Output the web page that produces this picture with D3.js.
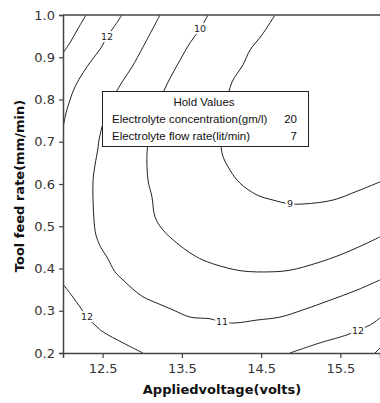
<!DOCTYPE html>
<html>
<head>
<meta charset="utf-8">
<script src="https://cdn.jsdelivr.net/npm/d3@7"></script>
<style>
  body { margin: 0; background: #fff; }
  svg { display: block; }
  .tick text { font-family: "DejaVu Sans", sans-serif; font-size: 13px; fill: #333; }
  .axis-title { font-family: "DejaVu Sans", sans-serif; font-weight: bold; font-size: 13px; fill: #111; }
  .clabel { font-family: "DejaVu Sans", sans-serif; font-size: 9.5px; fill: #222; }
  .legend text { font-family: "Liberation Sans", Arial, sans-serif; font-size: 11.5px; fill: #111; }
</style>
</head>
<body>
<div id="chart"></div>
<script>
// tick values
const xTicks = [12.5, 13.5, 14.5, 15.5];
const yTicks = [0.2, 0.3, 0.4, 0.5, 0.6, 0.7, 0.8, 0.9, 1.0];

// contour lines: [voltage, feed rate]
const contour13a = [[12.0, 0.91], [12.09, 0.935], [12.19, 0.968], [12.29, 1.0]];
const contour12a = [[12.744, 1.0], [12.644, 0.972], [12.555, 0.948], [12.479, 0.922], [12.366, 0.894],
    [12.252, 0.863], [12.151, 0.830], [12.088, 0.799], [12.038, 0.768], [12.0, 0.733]];
const contour11 = [[13.224, 1.0], [13.009, 0.924], [12.871, 0.877], [12.744, 0.841], [12.618, 0.799],
    [12.517, 0.751], [12.454, 0.704], [12.442, 0.685], [12.404, 0.645], [12.379, 0.609], [12.379, 0.562],
    [12.391, 0.515], [12.416, 0.479], [12.48, 0.449], [12.555, 0.427], [12.656, 0.392], [12.757, 0.373],
    [12.883, 0.351], [13.009, 0.333], [13.186, 0.318], [13.388, 0.302], [13.603, 0.285], [13.855, 0.281],
    [14.006, 0.273], [14.17, 0.271], [14.448, 0.278], [14.738, 0.285], [15.028, 0.302], [15.369, 0.325],
    [15.71, 0.349], [16.0, 0.373]];
const contour10 = [[13.83, 1.0], [13.729, 0.967], [13.603, 0.934], [13.476, 0.893], [13.325, 0.841],
    [13.224, 0.799], [13.136, 0.751], [13.085, 0.709], [13.06, 0.673], [13.073, 0.609], [13.123, 0.569],
    [13.161, 0.522], [13.262, 0.491], [13.438, 0.46], [13.603, 0.437], [13.767, 0.42], [14.019, 0.404],
    [14.271, 0.394], [14.612, 0.392], [14.864, 0.396], [15.205, 0.413], [15.495, 0.432], [15.836, 0.46],
    [16.0, 0.475]];
const contour9 = [[14.675, 1.0], [14.511, 0.953], [14.36, 0.917], [14.271, 0.882], [14.132, 0.841],
    [14.057, 0.787], [14.006, 0.733], [14.006, 0.673], [14.107, 0.633], [14.233, 0.602], [14.448, 0.574],
    [14.65, 0.562], [14.864, 0.553], [15.054, 0.553], [15.407, 0.562], [15.71, 0.583], [16.0, 0.605]];
const contour12b = [[12.0, 0.363], [12.114, 0.335], [12.215, 0.309], [12.303, 0.285], [12.404, 0.266],
    [12.505, 0.25], [12.757, 0.224], [13.009, 0.2]];
const contour12c = [[14.864, 0.2], [15.243, 0.224], [15.584, 0.243], [15.722, 0.254], [15.874, 0.266], [16.0, 0.283]];
const contour13b = [[15.937, 0.2], [16.0, 0.212]];

// contour labels: [text, voltage, feed rate]
const contourLabels = [["12", 12.555, 0.948], ["10", 13.729, 0.967], ["9", 14.864, 0.553],
    ["11", 14.006, 0.273], ["12", 12.303, 0.285], ["12", 15.722, 0.254]];

// hold values box
const holdNames = ["Electrolyte concentration(gm/l)", "Electrolyte flow rate(lit/min)"];
const holdValues = [20, 7];

const width = 380, height = 403;
const margin = {left: 63, right: 0, top: 15, bottom: 50};

const svg = d3.select('#chart')
    .append('svg')
    .attr('width', width)
    .attr('height', height);

const x = d3.scaleLinear().domain([12, 16]).range([margin.left, width - margin.right]);
const y = d3.scaleLinear().domain([0.2, 1.0]).range([height - margin.bottom, margin.top]);

svg.append('clipPath').attr('id', 'plot-clip')
    .append('rect')
    .attr('x', margin.left).attr('y', margin.top)
    .attr('width', width - margin.left - margin.right)
    .attr('height', height - margin.top - margin.bottom);

const line = d3.line()
    .x(d => x(d[0]))
    .y(d => y(d[1]))
    .curve(d3.curveCatmullRom.alpha(0.5));

const contours = [contour13a, contour12a, contour11, contour10, contour9, contour12b, contour12c, contour13b];

svg.append('g')
    .attr('clip-path', 'url(#plot-clip)')
    .selectAll('path')
    .data(contours)
    .enter()
    .append('path')
    .attr('d', line)
    .attr('fill', 'none')
    .attr('stroke', '#222')
    .attr('stroke-width', 1);

// labels sit on the line with a white halo to break it
svg.append('g')
    .selectAll('text')
    .data(contourLabels)
    .enter()
    .append('text')
    .attr('class', 'clabel')
    .attr('x', d => x(d[1]))
    .attr('y', d => y(d[2]))
    .attr('dy', '0.35em')
    .attr('text-anchor', 'middle')
    .attr('stroke', '#fff')
    .attr('stroke-width', 4)
    .attr('paint-order', 'stroke')
    .text(d => d[0]);

// axes
const xAxis = svg.append('g')
    .attr('transform', `translate(0, ${height - margin.bottom})`)
    .call(d3.axisBottom(x).tickValues(xTicks).tickSize(5).tickPadding(6).tickFormat(d3.format('.1f')));

const yAxis = svg.append('g')
    .attr('transform', `translate(${margin.left}, 0)`)
    .call(d3.axisLeft(y).tickValues(yTicks).tickSize(4).tickPadding(4).tickFormat(d3.format('.1f')));

[xAxis, yAxis].forEach(g => {
    g.select('.domain').attr('stroke', '#444').attr('stroke-width', 1.5);
    g.selectAll('.tick line').attr('stroke', '#444').attr('stroke-width', 1.2);
});

// top frame line
svg.append('line')
    .attr('x1', margin.left).attr('x2', width)
    .attr('y1', margin.top).attr('y2', margin.top)
    .attr('stroke', '#444').attr('stroke-width', 1.5);

svg.append('text')
    .attr('class', 'axis-title')
    .attr('x', 222)
    .attr('y', 394)
    .attr('text-anchor', 'middle')
    .text('Appliedvoltage(volts)');

svg.append('text')
    .attr('class', 'axis-title')
    .attr('transform', 'translate(24, 186) rotate(-90)')
    .attr('text-anchor', 'middle')
    .text('Tool feed rate(mm/min)');

// hold values legend
const legend = svg.append('g').attr('class', 'legend');

legend.append('rect')
    .attr('x', 102.5).attr('y', 91.5)
    .attr('width', 206).attr('height', 55)
    .attr('fill', '#fff')
    .attr('stroke', '#222')
    .attr('stroke-width', 1);

legend.append('text')
    .attr('x', 204).attr('y', 106)
    .attr('text-anchor', 'middle')
    .text('Hold Values');

legend.selectAll('.hname')
    .data(holdNames)
    .enter()
    .append('text')
    .attr('class', 'hname')
    .attr('x', 112)
    .attr('y', (d, i) => 123 + i * 17)
    .text(d => d);

legend.selectAll('.hval')
    .data(holdValues)
    .enter()
    .append('text')
    .attr('class', 'hval')
    .attr('x', 297)
    .attr('y', (d, i) => 123 + i * 17)
    .attr('text-anchor', 'end')
    .text(d => d);
</script>
</body>
</html>
